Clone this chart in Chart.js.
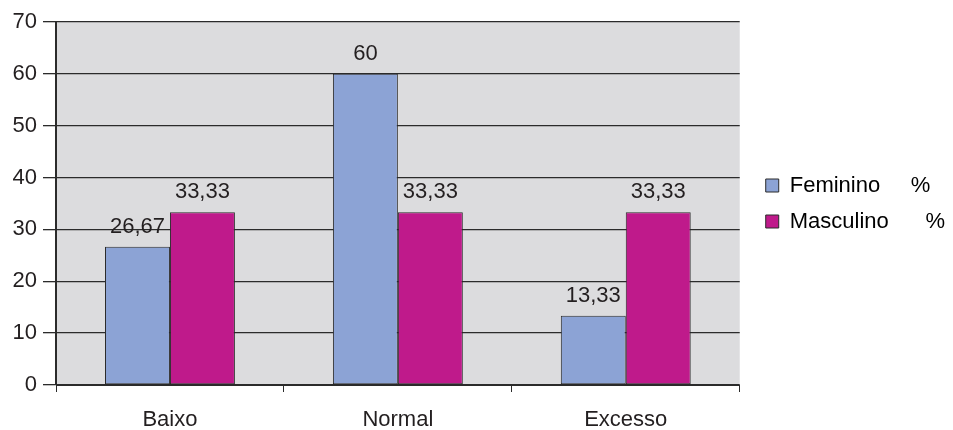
<!DOCTYPE html>
<html>
<head>
<meta charset="utf-8">
<script src="https://cdn.jsdelivr.net/npm/chart.js@4"></script>
<style>
  html, body { margin: 0; padding: 0; background: #fff; }
  #wrap { width: 953px; height: 430px; }
</style>
</head>
<body>
<div id="wrap"><canvas id="imcChart" width="953" height="430"></canvas></div>
<script>
// categories and series (percent)
const categories = ['Baixo', 'Normal', 'Excesso'];
const feminino = [26.67, 60, 13.33];
const masculino = [33.33, 33.33, 33.33];
const seriesNames = ['Feminino     %', 'Masculino      %'];
const yTicks = [0, 10, 20, 30, 40, 50, 60, 70];

const FONT = "'Liberation Sans', Arial, sans-serif";

// gray plot background
const plotBg = {
  id: 'plotBg',
  beforeDraw(chart) {
    const { ctx, chartArea: a } = chart;
    ctx.save();
    ctx.fillStyle = '#dcdcde';
    ctx.fillRect(a.left, a.top, a.right - a.left, a.bottom - a.top);
    ctx.restore();
  }
};

// put the legend a bit further from the plot and centre it on the plot height
const legendPlace = {
  id: 'legendPlace',
  afterLayout(chart) {
    const lg = chart.legend;
    const a = chart.chartArea;
    const shift = 12;
    lg.left += shift;
    lg.right += shift;
    lg.top = a.top;
    lg.bottom = a.bottom;
    lg.height = a.bottom - a.top;
  }
};

// value labels above bars, decimal comma
const valueLabels = {
  id: 'valueLabels',
  afterDatasetsDraw(chart) {
    const ctx = chart.ctx;
    ctx.save();
    ctx.font = '22px ' + FONT;
    ctx.fillStyle = '#231f20';
    ctx.textAlign = 'center';
    ctx.textBaseline = 'alphabetic';
    chart.data.datasets.forEach((ds, i) => {
      chart.getDatasetMeta(i).data.forEach((bar, j) => {
        const txt = String(ds.data[j]).replace('.', ',');
        ctx.fillText(txt, bar.x, bar.y - 14);
      });
    });
    ctx.restore();
  }
};

const ctx = document.getElementById('imcChart').getContext('2d');
new Chart(ctx, {
  type: 'bar',
  data: {
    labels: categories,
    datasets: [
      {
        label: seriesNames[0],
        data: feminino,
        backgroundColor: '#8ca3d5',
        borderColor: '#2b2b2b',
        borderWidth: 1,
        borderSkipped: false
      },
      {
        label: seriesNames[1],
        data: masculino,
        backgroundColor: '#bf1a8b',
        borderColor: '#2b2b2b',
        borderWidth: 1,
        borderSkipped: false
      }
    ]
  },
  options: {
    responsive: false,
    animation: false,
    layout: { padding: { top: 22, right: 10, left: 12, bottom: 0 } },
    datasets: { bar: { categoryPercentage: 0.57, barPercentage: 1 } },
    plugins: {
      legend: {
        position: 'right',
        align: 'center',
        labels: {
          font: { family: FONT, size: 22 },
          color: '#231f20',
          boxWidth: 13,
          boxHeight: 13,
          padding: 14,
          generateLabels(chart) {
            return chart.data.datasets.map((ds, i) => ({
              text: ds.label,
              fillStyle: ds.backgroundColor,
              strokeStyle: '#2b2b2b',
              lineWidth: 1,
              datasetIndex: i
            }));
          }
        }
      },
      tooltip: { enabled: false }
    },
    scales: {
      x: {
        afterFit(scale) { scale.height = 45; },
        grid: {
          offset: true,
          drawOnChartArea: false,
          color: '#2b2b2b',
          tickLength: 7
        },
        border: { color: '#2b2b2b', width: 1 },
        ticks: {
          font: { family: FONT, size: 22 },
          color: '#231f20',
          padding: 15
        }
      },
      y: {
        min: 0,
        max: 70,
        afterFit(scale) { scale.width = 44; },
        afterBuildTicks(axis) { axis.ticks = yTicks.map(v => ({ value: v })); },
        grid: {
          color: '#2b2b2b',
          lineWidth: 1.3,
          tickLength: 13
        },
        border: { color: '#2b2b2b', width: 2 },
        ticks: {
          font: { family: FONT, size: 22 },
          color: '#231f20',
          padding: 6
        }
      }
    }
  },
  plugins: [plotBg, legendPlace, valueLabels]
});
</script>
</body>
</html>
